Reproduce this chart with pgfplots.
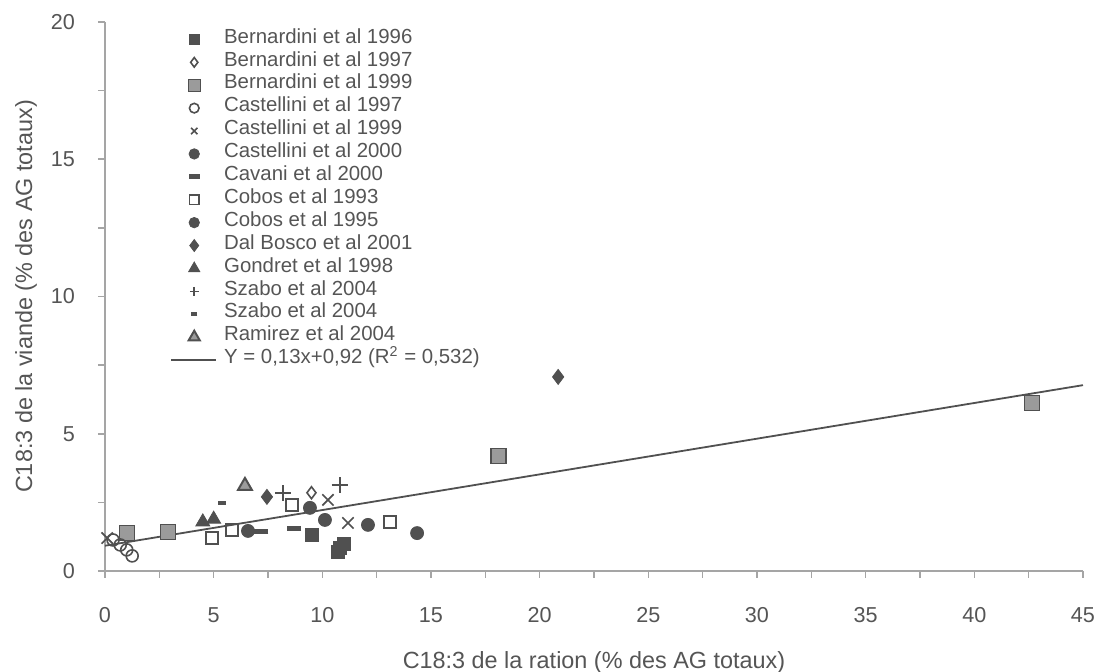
\documentclass[border=0pt]{standalone}
\usepackage{fontspec}
\setmainfont{Liberation Sans}
\usepackage{pgfplots}
\pgfplotsset{compat=1.18}
\definecolor{txt}{RGB}{85,85,85}
\definecolor{axgray}{RGB}{165,165,165}
\definecolor{mk}{RGB}{80,80,80}
\definecolor{mkl}{RGB}{155,155,155}
\pgfplotsset{
    markleg/.style={legend image code/.code={
        \path[draw=none,fill=none] (-11.5pt,0pt) (11pt,0pt);
        \draw[##1,every mark/.append style={scale=0.8}] plot coordinates {(0pt,0pt)};}},
    lineleg/.style={legend image code/.code={\draw[##1] (-11.5pt,0pt) -- (11pt,0pt);}},
    smallleg/.style={legend image post style={every mark/.append style={scale=0.7}}},
}

\begin{document}
\begin{tikzpicture}[x=1pt,y=1pt]
\useasboundingbox (-52.5,-50.5) rectangle (496.5,285.5);
\begin{axis}[
    at={(0,0)}, anchor=south west,
    scale only axis, width=489pt, height=274.5pt,
    xmin=0, xmax=45, ymin=0, ymax=20,
    clip=false,
    axis lines*=left,
    axis line style={axgray, line width=0.8pt},
    xtick={0,5,...,45}, ytick={0,5,...,20},
    minor x tick num=1, minor y tick num=1,
    tick align=outside,
    major tick length=3.5pt, minor tick length=3.5pt,
    tick style={axgray, line width=0.8pt},
    tick label style={font=\fontsize{10.8}{13}\selectfont, text=txt},
    /pgf/number format/assume math mode=true,
    xticklabel style={anchor=center, yshift=-18.5pt},
    yticklabel style={anchor=east, xshift=-8pt},
    xlabel={C18:3 de la ration (\% des AG totaux)},
    ylabel={C18:3 de la viande (\% des AG totaux)},
    label style={font=\fontsize{11.7}{14}\selectfont, text=txt},
    xlabel style={at={(axis description cs:0.5,-0.1664)}, anchor=center},
    ylabel style={at={(axis description cs:-0.0808,0.5)}, anchor=center},
    legend cell align=left,
    legend style={at={(axis description cs:0.0664,0.9898)}, anchor=north west,
        draw=none, fill=none, inner sep=0pt, row sep=0pt,
        font=\fontsize{10.2}{12}\selectfont, text=txt,
        nodes={inner sep=0pt, text height=7.6pt, text depth=3.85pt, anchor=west},
        /tikz/every odd column/.append style={column sep=3.5pt}},
    markleg,
]
% Bernardini et al 1996
\addplot[only marks, color=mk, mark=square*, mark size=3.25pt, mark options={fill=mk}]
    coordinates {(9.5,1.3)(10.8,0.85)(11.0,0.98)(10.7,0.7)};
\addlegendentry{Bernardini et al 1996}
% Bernardini et al 1997
\addplot[only marks, color=mk, mark=diamond, mark size=3pt, mark options={fill=white, line width=0.8pt}]
    coordinates {(9.5,2.85)};
\addlegendentry{Bernardini et al 1997}
% Bernardini et al 1999
\addplot[only marks, color=mk, mark=square*, mark size=3.75pt, mark options={fill=mkl, draw=mk, line width=0.7pt}]
    coordinates {(1.0,1.38)(2.9,1.42)(18.1,4.19)(42.65,6.12)};
\addlegendentry{Bernardini et al 1999}
% Castellini et al 1997
\addplot[only marks, color=mk, mark=o, mark size=3pt, mark options={line width=0.8pt}]
    coordinates {(0.37,1.13)(0.7,0.95)(1.0,0.77)(1.25,0.55)};
\addlegendentry{Castellini et al 1997}
% Castellini et al 1999
\addplot[only marks, color=mk, mark=x, mark size=4pt, mark options={line width=0.8pt}, smallleg]
    coordinates {(0.1,1.2)(10.26,2.59)(11.18,1.75)};
\addlegendentry{Castellini et al 1999}
% Castellini et al 2000
\addplot[only marks, color=mk, mark=*, mark size=3.25pt, mark options={fill=mk}]
    coordinates {(9.43,2.3)(10.12,1.86)};
\addlegendentry{Castellini et al 2000}
% Cavani et al 2000
\addplot[only marks, color=mk, mark=-, mark size=3.5pt, mark options={line width=2.5pt}]
    coordinates {(7.2,1.45)(8.7,1.55)};
\addlegendentry{Cavani et al 2000}
% Cobos et al 1993
\addplot[only marks, color=mk, mark=square, mark size=3pt, mark options={fill=white, line width=0.8pt}]
    coordinates {(4.92,1.2)(5.84,1.49)(8.6,2.4)(13.1,1.79)};
\addlegendentry{Cobos et al 1993}
% Cobos et al 1995
\addplot[only marks, color=mk, mark=*, mark size=3.25pt, mark options={fill=mk}]
    coordinates {(6.58,1.46)(12.1,1.68)(14.36,1.38)};
\addlegendentry{Cobos et al 1995}
% Dal Bosco et al 2001
\addplot[only marks, color=mk, mark=diamond*, mark size=3.75pt, mark options={fill=mk}]
    coordinates {(7.45,2.7)(20.85,7.07)};
\addlegendentry{Dal Bosco et al 2001}
% Gondret et al 1998
\addplot[only marks, color=mk, mark=triangle*, mark size=4pt, mark options={fill=mk}]
    coordinates {(4.5,1.79)(5.0,1.89)};
\addlegendentry{Gondret et al 1998}
% Szabo et al 2004 (+)
\addplot[only marks, color=mk, mark=+, mark size=4pt, mark options={line width=0.8pt}, smallleg]
    coordinates {(8.2,2.84)(10.8,3.13)};
\addlegendentry{Szabo et al 2004}
% Szabo et al 2004 (-)
\addplot[only marks, color=mk, mark=-, mark size=2pt, mark options={line width=2pt}]
    coordinates {(5.38,2.48)};
\addlegendentry{Szabo et al 2004}
% Ramirez et al 2004
\addplot[only marks, color=mk, mark=triangle*, mark size=4pt, mark options={fill=mkl, draw=mk, line width=1pt}]
    coordinates {(6.44,3.1)};
\addlegendentry{Ramirez et al 2004}
% regression line
\addplot[mk, line width=0.9pt, no marks, lineleg]
    coordinates {(0,0.92)(45,6.77)};
\addlegendentry{Y = 0,13x+0,92 (R\textsuperscript{2} = 0,532)}
\end{axis}
\end{tikzpicture}
\end{document}
